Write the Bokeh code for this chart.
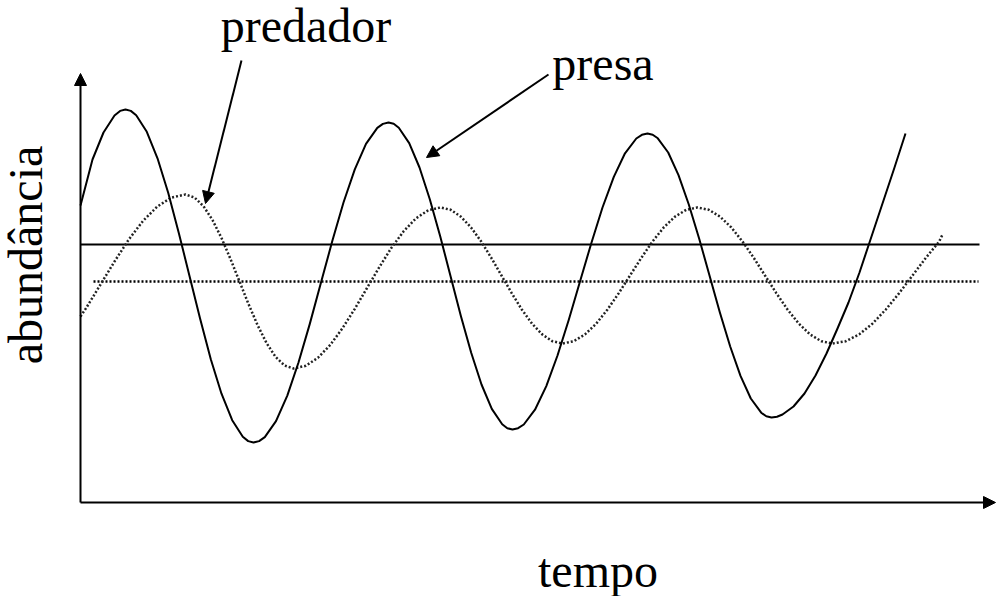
from bokeh.plotting import figure
from bokeh.models import Range1d, Arrow, NormalHead, ColumnDataSource
from bokeh.core.properties import value
from bokeh.embed import file_html
from bokeh.resources import INLINE

# ---- data (arbitrary units) ----
presa_tempo = [0.0, 1.2, 2.3, 3.4, 3.96, 4.5, 5.03,
               5.57, 6.63, 7.7, 8.77, 9.83, 10.9, 11.97, 13.03, 14.1, 15.17, 16.23, 16.77, 17.3, 17.86,
               18.43, 19.55, 20.68, 21.8, 22.93, 24.05, 25.18, 26.3, 27.43, 28.55, 29.68, 30.24, 30.8, 31.32,
               31.83, 32.87, 33.9, 34.93, 35.97, 37.0, 38.03, 39.07, 40.1, 41.13, 42.17, 42.68, 43.2, 43.76,
               44.33, 45.45, 46.58, 47.7, 48.83, 49.95, 51.08, 52.2, 53.33, 54.45, 55.58, 56.14, 56.7, 57.22,
               57.73, 58.77, 59.8, 60.83, 61.87, 62.9, 63.93, 64.97, 66.0, 67.03, 68.07, 68.58, 69.1, 69.65,
               70.2, 71.3, 72.4, 73.5, 74.6, 75.7, 76.8, 77.9, 79.0, 80.2, 81.4, 82.5]
presa_abund = [29.7, 34.3, 37.0, 38.7, 39.16, 39.3, 39.16,
               38.73, 37.07, 34.42, 30.97, 26.96, 22.65, 18.34, 14.32, 10.88, 8.23, 6.57, 6.14, 6.0, 6.14,
               6.54, 8.14, 10.69, 14.0, 17.86, 22.0, 26.14, 30.0, 33.31, 35.86, 37.46, 37.86, 38.0, 37.87,
               37.48, 35.94, 33.5, 30.33, 26.63, 22.65, 18.68, 14.98, 11.8, 9.36, 7.82, 7.43, 7.3, 7.43,
               7.8, 9.28, 11.64, 14.7, 18.27, 22.1, 25.93, 29.5, 32.56, 34.92, 36.4, 36.77, 36.9, 36.78,
               36.42, 35.0, 32.74, 29.8, 26.38, 22.7, 19.03, 15.6, 12.66, 10.4, 8.98, 8.62, 8.5, 8.58,
               8.8, 9.6, 10.9, 12.7, 14.9, 17.4, 20.0, 23.0, 26.3, 29.9, 33.5, 36.9]

predador_tempo = [0.0, 0.58, 2.0, 3.42, 4.83, 6.25, 7.67, 9.08, 10.5,
                  11.4, 12.3, 13.2, 14.1, 15.0, 15.9, 16.8, 17.7, 18.6, 19.5, 20.4, 21.3,
                  22.53, 23.75, 24.98, 26.2, 27.43, 28.65, 29.88, 31.1, 32.33, 33.55, 34.78, 36.0,
                  37.02, 38.03, 39.05, 40.07, 41.08, 42.1, 43.12, 44.13, 45.15, 46.17, 47.18, 48.2,
                  49.33, 50.45, 51.58, 52.7, 53.83, 54.95, 56.08, 57.2, 58.33, 59.45, 60.58, 61.7,
                  62.83, 63.95, 65.08, 66.2, 67.33, 68.45, 69.58, 70.7, 71.83, 72.95, 74.08, 75.2,
                  76.53, 77.87, 79.2, 80.53, 81.87, 83.2, 84.53, 85.87, 86.2]
predador_abund = [18.6, 19.47, 21.8, 24.13, 26.3, 28.16, 29.59, 30.49, 30.8,
                  30.5, 29.63, 28.25, 26.45, 24.35, 22.1, 19.85, 17.75, 15.95, 14.57, 13.7, 13.4,
                  13.67, 14.48, 15.76, 17.43, 19.37, 21.45, 23.53, 25.48, 27.14, 28.42, 29.23, 29.5,
                  29.27, 28.59, 27.51, 26.1, 24.46, 22.7, 20.94, 19.3, 17.89, 16.81, 16.13, 15.9,
                  16.13, 16.81, 17.89, 19.3, 20.94, 22.7, 24.46, 26.1, 27.51, 28.59, 29.27, 29.5,
                  29.27, 28.59, 27.51, 26.1, 24.46, 22.7, 20.94, 19.3, 17.89, 16.81, 16.13, 15.9,
                  16.13, 16.81, 17.89, 19.3, 20.94, 22.7, 24.46, 26.1, 26.8]

equilibrio_presa = 25.8
equilibrio_presa_tempo = [0.0, 89.9]
equilibrio_predador = 22.1
equilibrio_predador_tempo = [1.3, 89.8]

rotulo_x = "tempo"
rotulo_y = "abundância"
rotulo_predador = "predador"
rotulo_presa = "presa"

FONT = "Liberation Serif"

p = figure(width=996, height=596, x_range=Range1d(-8.0, 91.6), y_range=Range1d(-9.4, 50.2),
           output_backend="svg", toolbar_location=None, min_border=0)
p.axis.visible = False
p.grid.visible = False
p.outline_line_color = None
p.background_fill_color = "white"
p.border_fill_color = "white"

# equilibrium lines
p.line(equilibrio_presa_tempo, [equilibrio_presa] * 2, line_color="black", line_width=2)
p.line(equilibrio_predador_tempo, [equilibrio_predador] * 2, line_color="black",
       line_width=2.5, line_dash="2 2")

# curves
p.line(predador_tempo, predador_abund, line_color="#222222", line_width=2.5, line_dash="2 2",
       line_join="round")
p.line(presa_tempo, presa_abund, line_color="black", line_width=2, line_join="round")

# axes with arrows
p.add_layout(Arrow(end=NormalHead(size=12, fill_color="black", line_color="black"),
                   x_start=0, y_start=0, x_end=0, y_end=42.9, line_width=2, line_color="black"))
p.add_layout(Arrow(end=NormalHead(size=12, fill_color="black", line_color="black"),
                   x_start=0, y_start=0, x_end=91.5, y_end=0, line_width=2, line_color="black"))

# annotation arrows
p.add_layout(Arrow(end=NormalHead(size=12, fill_color="black", line_color="black"),
                   x_start=16.1, y_start=44.2, x_end=12.5, y_end=29.9, line_width=2, line_color="black"))
p.add_layout(Arrow(end=NormalHead(size=12, fill_color="black", line_color="black"),
                   x_start=46.8, y_start=42.8, x_end=34.6, y_end=34.5, line_width=2, line_color="black"))

labels = ColumnDataSource(dict(
    x=[22.55, 52.25, 51.75, -5.5],
    y=[47.75, 43.9, -6.8, 24.75],
    text=[rotulo_predador, rotulo_presa, rotulo_x, rotulo_y],
    angle=[0.0, 0.0, 0.0, 1.5708],
))
p.text(x="x", y="y", text="text", angle="angle", source=labels,
       text_font=value(FONT), text_font_size="48px", text_color="black",
       text_align="center", text_baseline="alphabetic")

open("out.html", "w").write(file_html(p, INLINE))
